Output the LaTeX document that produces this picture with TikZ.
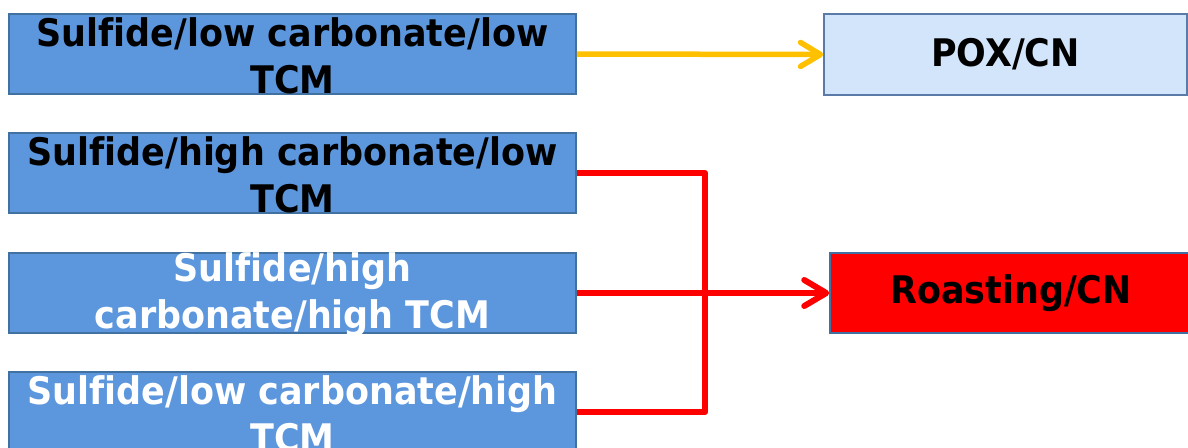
\documentclass[tikz,border=0pt]{standalone}
\usepackage{fontspec}
\setmainfont[FakeStretch=0.92, Ligatures=NoCommon]{DejaVu Sans}
\usetikzlibrary{arrows.meta}
\definecolor{ore}{RGB}{92,151,222}
\definecolor{oreedge}{RGB}{65,113,160}
\definecolor{poxfill}{RGB}{211,229,250}
\definecolor{poxedge}{RGB}{90,123,168}
\definecolor{goldline}{RGB}{255,192,0}
\definecolor{redline}{RGB}{255,0,0}
\tikzset{
  boxfont/.style={font=\fontsize{38}{47}\selectfont\bfseries},
  orebox/.style={draw=oreedge, line width=1.5pt, fill=ore, minimum width=567pt,
    minimum height=80pt, inner sep=0pt},
  oretext/.style={boxfont, align=center, inner sep=0pt},
  routebox/.style={draw=poxedge, line width=1.5pt, minimum width=363pt,
    minimum height=81pt, inner sep=0pt, align=center, boxfont},
  link/.style={line width=5.5pt, line join=round}
}
\begin{document}
\begin{tikzpicture}[x=1pt, y=-1pt]
  \useasboundingbox (0,0) rectangle (1188,447);
  \clip (0,0) rectangle (1188,447);
  % ore types
  \node[orebox] (b1) at (292.5,54) {};
  \node[oretext, text=black] (t1) at (292.5,56) {Sulfide/low carbonate/low\\TCM};
  \node[orebox] (b2) at (292.5,173) {};
  \node[oretext, text=black] (t2) at (292.5,175) {Sulfide/high carbonate/low\\TCM};
  \node[orebox] (b3) at (292.5,293) {};
  \node[oretext, text=white] (t3) at (292.5,295) {Sulfide/high\\carbonate/high TCM};
  \node[orebox] (b4) at (292.5,412) {};
  \node[oretext, text=white] (t4) at (292.5,414) {Sulfide/low carbonate/high\\TCM};
  % process routes
  \node[routebox, fill=poxfill] (pox) at (1005.5,54.5) {POX/CN};
  \node[routebox, draw=oreedge, fill=redline, minimum height=80pt, minimum width=362pt] (roast) at (1011,293) {Roasting/CN};
  % connectors
  \coordinate (j) at (705,293);
  \draw[link, goldline, -{Straight Barb[length=20pt, width=24pt, round]}] (b1.east) -- (pox.west);
  \draw[link, redline, line width=6pt] (b2.east) -| (j) |- (b4.east);
  \draw[link, redline, line width=6pt, -{Straight Barb[length=22pt, width=26pt, round]}] (b3.east) -- (roast.west);
\end{tikzpicture}
\end{document}
